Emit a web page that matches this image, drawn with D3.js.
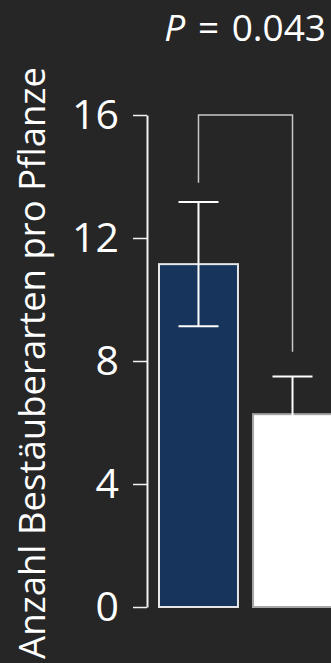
<!DOCTYPE html>
<html>
<head>
<meta charset="utf-8">
<script src="https://cdn.jsdelivr.net/npm/d3@7"></script>
<style>
  html, body { margin: 0; padding: 0; background: #262626; }
  svg { display: block; }
</style>
</head>
<body>
<script>
// Group means with their standard errors
const groups = ["Gruppe A", "Gruppe B"];
const means = [11.15, 6.27];
const errors = [2.02, 1.23];
const barFills = ["#17355c", "#ffffff"];
const barStrokes = ["#e6e6e6", "#a6a6a6"];
const yTicks = [0, 4, 8, 12, 16];
// Significance bracket: top level and the lower end of each leg
const bracketTop = 16;
const bracketLegEnds = [13.8, 8.3];
const pLabel = "0.043";
const yTitle = "Anzahl Bestäuberarten pro Pflanze";

const W = 331, H = 663;
const font = "'Open Sans', sans-serif";

const svg = d3.select("body").append("svg")
  .attr("width", W).attr("height", H)
  .style("background", "#262626");

const y = d3.scaleLinear().domain([0, 16]).range([607, 115]);
const x = d3.scaleBand().domain(groups).range([159, 332]).paddingInner(0.16).paddingOuter(0);

// y axis
const axis = svg.append("g")
  .attr("transform", "translate(147,0)")
  .call(d3.axisLeft(y).tickValues(yTicks).tickSize(14).tickSizeOuter(0).tickPadding(14));
axis.select(".domain").attr("stroke", "#f2f2f2").attr("stroke-width", 2);
axis.selectAll(".tick line").attr("stroke", "#f2f2f2").attr("stroke-width", 1.5);
axis.selectAll(".tick text")
  .attr("fill", "#ffffff")
  .style("font-family", font)
  .style("font-size", "41px");

// bars
svg.append("g").selectAll("rect")
  .data(groups)
  .join("rect")
  .attr("x", d => x(d))
  .attr("y", (d, i) => y(means[i]))
  .attr("width", x.bandwidth())
  .attr("height", (d, i) => y(0) - y(means[i]))
  .attr("fill", (d, i) => barFills[i])
  .attr("stroke", (d, i) => barStrokes[i])
  .attr("stroke-width", 2);

// error bars
const capHalf = 20;
const eb = svg.append("g").attr("stroke", "#ffffff").attr("stroke-width", 2);
groups.forEach((g, i) => {
  const cx = x(g) + x.bandwidth() / 2;
  const lo = y(means[i] - errors[i]), hi = y(means[i] + errors[i]);
  eb.append("line").attr("x1", cx).attr("x2", cx).attr("y1", lo).attr("y2", hi);
  eb.append("line").attr("x1", cx - capHalf).attr("x2", cx + capHalf).attr("y1", hi).attr("y2", hi);
  eb.append("line").attr("x1", cx - capHalf).attr("x2", cx + capHalf).attr("y1", lo).attr("y2", lo);
});

// significance bracket
const c0 = x(groups[0]) + x.bandwidth() / 2;
const c1 = x(groups[1]) + x.bandwidth() / 2;
svg.append("path")
  .attr("d", d3.line()([
    [c0, y(bracketLegEnds[0])], [c0, y(bracketTop)],
    [c1, y(bracketTop)], [c1, y(bracketLegEnds[1])]
  ]))
  .attr("fill", "none")
  .attr("stroke", "#c8c8c8")
  .attr("stroke-width", 1.5);

// p value
const pt = svg.append("text")
  .attr("x", 326).attr("y", 41)
  .attr("text-anchor", "end")
  .attr("fill", "#ffffff")
  .style("font-family", font)
  .style("font-size", "37px")
  .style("word-spacing", "3px");
pt.append("tspan").style("font-style", "italic").text("P");
pt.append("tspan").text(" = " + pLabel);

// y axis title
svg.append("text")
  .attr("transform", "translate(45,363) rotate(-90)")
  .attr("text-anchor", "middle")
  .attr("fill", "#ffffff")
  .style("font-family", font)
  .style("font-size", "36.5px")
  .text(yTitle);
</script>
</body>
</html>
